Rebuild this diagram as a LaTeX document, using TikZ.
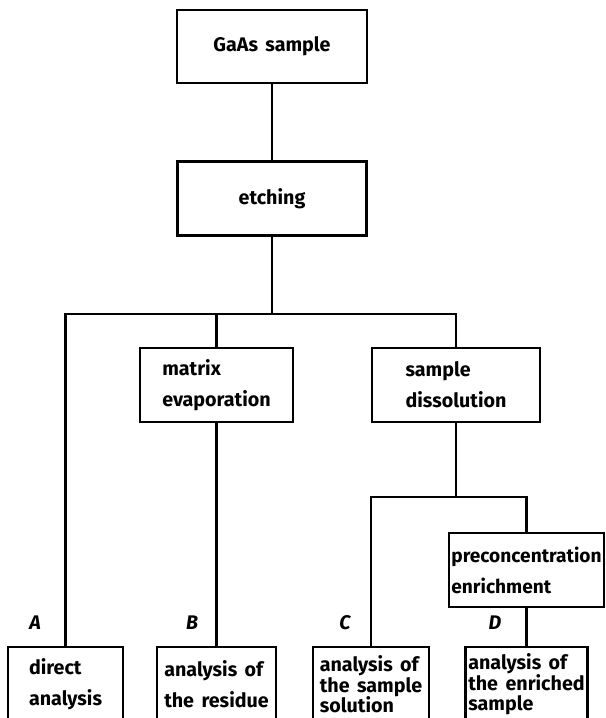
\documentclass[tikz,border=0pt]{standalone}
\usepackage{fontspec}
\setmainfont{Fira Sans}[WordSpace=1.6]
\usetikzlibrary{positioning}
\tikzset{
    font=\fontsize{14}{22}\selectfont\bfseries,
    % Shapes
    box/.style={rectangle, draw, line width=2pt, align=left, inner sep=2pt},
    midbox/.style={box, minimum height=1.85cm},
    lowbox/.style={box, minimum height=1.875cm},
    tight/.style={font=\fontsize{14}{14.5}\selectfont\bfseries},
    % Links & Labels
    link/.style={line width=2pt},
    lbl/.style={font=\fontsize{14}{16}\selectfont\bfseries\itshape}
}

\begin{document}
\begin{tikzpicture}[x=0.025cm, y=-0.025cm]

\useasboundingbox (0,0) rectangle (606,718);
\clip (0,0) rectangle (606,718);

\node[box, minimum width=4.75cm, minimum height=1.825cm] (gaas) at (272,46.5) {GaAs sample};
\node[box, minimum width=4.725cm, minimum height=1.85cm, below=1.9cm of gaas] (etch) {etching};

\node[midbox, minimum width=3.825cm] (matrix) at (216.5,385) {matrix\\evaporation};
\node[midbox, minimum width=4.2cm] (dissol) at (456,385) {sample\\dissolution};
\node[midbox, minimum width=3.875cm, inner xsep=0.5pt, font=\fontsize{13.6}{22}\selectfont\bfseries] (precon) at (526.5,570) {preconcentration\\enrichment};

\node[lowbox, minimum width=2.875cm] (direct) at (65.5,684.5) {direct\\analysis};
\node[lowbox, minimum width=2.975cm] (residue) at (216.5,684.5) {analysis of\\the residue};
\node[lowbox, tight, minimum width=2.9cm] (solution) at (371,684.5) {analysis of\\the sample\\solution};
\node[lowbox, tight, minimum width=2.9cm] (enriched) at (526.5,684.5) {analysis of\\the enriched\\sample};

\node[lbl] (lblA) at (35,623) {A};
\node[lbl] (lblB) at (192,623) {B};
\node[lbl] (lblC) at (345,623) {C};
\node[lbl] (lblD) at (495,623) {D};

\coordinate (split1) at (etch.south |- 0,314);
\coordinate (split2) at (dissol.south |- 0,497);

\draw[link] (gaas) -- (etch);
\draw[link] (etch) -- (split1);
\draw[link] (direct) |- (split1) -| (dissol);
\draw[link] (matrix) -- (matrix |- split1);
\draw[link] (matrix) -- (residue);
\draw[link] (dissol) -- (split2);
\draw[link] (solution) |- (split2) -| (precon);
\draw[link] (precon) -- (enriched);

\end{tikzpicture}
\end{document}
